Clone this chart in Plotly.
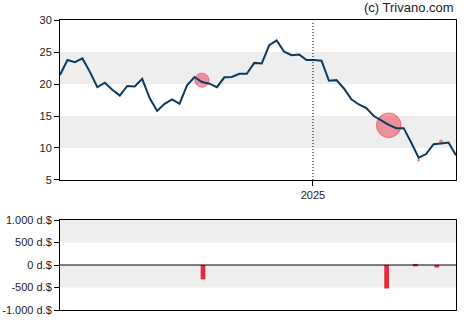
import plotly.graph_objects as go
from plotly.subplots import make_subplots
import pandas as pd

start = "2024-05-09"
prices = [21.4, 23.75, 23.4, 24.0, 21.9, 19.5, 20.2, 19.1, 18.2, 19.7,
          19.6, 20.8, 17.8, 15.8, 16.9, 17.6, 16.9, 19.8, 21.1, 20.3,
          20.05, 19.5, 21.05, 21.1, 21.6, 21.6, 23.3, 23.2, 26.05, 26.8,
          25.05, 24.5, 24.6, 23.75, 23.75, 23.65, 20.5, 20.6, 19.3, 17.6,
          16.8, 16.25, 15.0, 14.3, 13.6, 13.1, 13.1, 10.85, 8.5, 9.05,
          10.6, 10.7, 10.85, 8.85]
dates = pd.date_range(start, periods=len(prices), freq="7D")

trade_dates = ["2024-09-19", "2025-03-13", "2025-04-10", "2025-05-01"]
trade_prices = [20.6, 13.55, 8.1, 11.0]
trade_sizes = [14, 24.6, 2, 3]

bar_dates = ["2024-09-20", "2025-03-11", "2025-04-07", "2025-04-27"]
bar_values = [-320, -522, -30, -55]

ytick_vals = [5, 10, 15, 20, 25, 30]
y2_vals = [1000, 500, 0, -500, -1000]
y2_text = ["1.000 d.$", "500 d.$", "0 d.$", "-500 d.$", "-1.000 d.$"]

fig = make_subplots(rows=2, cols=1, shared_xaxes=False)

fig.add_trace(go.Scatter(x=trade_dates, y=trade_prices, mode="markers",
                         marker=dict(size=trade_sizes, color="rgba(232,40,60,0.66)",
                                     line=dict(color="rgba(232,40,60,0.9)", width=1))),
              row=1, col=1)
fig.add_trace(go.Scatter(x=dates, y=prices, mode="lines",
                         line=dict(color="#0d3a5c", width=2), hoverinfo="skip"),
              row=1, col=1)
fig.add_trace(go.Bar(x=bar_dates, y=bar_values, marker=dict(color="#e8283c", line=dict(width=0)),
                     width=4.4 * 86400000),
              row=2, col=1)

xr = [dates[0], dates[-1]]
band_color = "#eeeeee"
shapes = []
for y0, y1 in [(20, 25), (10, 15)]:
    shapes.append(dict(type="rect", xref="x domain", yref="y", x0=0, x1=1, y0=y0, y1=y1,
                       fillcolor=band_color, line=dict(width=0), layer="below"))
for y0, y1 in [(500, 1000), (-500, 0)]:
    shapes.append(dict(type="rect", xref="x2 domain", yref="y2", x0=0, x1=1, y0=y0, y1=y1,
                       fillcolor=band_color, line=dict(width=0), layer="below"))
shapes.append(dict(type="line", xref="x", yref="y domain", x0="2025-01-01", x1="2025-01-01",
                   y0=0, y1=0.985, line=dict(color="black", width=1, dash="1px,2px")))
shapes.append(dict(type="line", xref="x2 domain", yref="y2", x0=0, x1=1, y0=0, y1=0,
                   line=dict(color="black", width=1)))

font = dict(family="Liberation Sans, Arial", size=11, color="#222")
axis_common = dict(showline=True, linecolor="black", linewidth=1, mirror=True,
                   showgrid=False, zeroline=False, ticklen=5, automargin=False,
                   tickcolor="black", tickfont=font)

fig.update_layout(
    width=470, height=325, margin=dict(l=60, r=14, t=20, b=15),
    plot_bgcolor="white", paper_bgcolor="white", showlegend=False,
    shapes=shapes,
    xaxis=dict(domain=[0, 1], range=xr, tickvals=["2025-01-01"], ticktext=["2025"],
               ticks="outside", **axis_common),
    yaxis=dict(domain=[0.4483, 1], range=[5, 30], tickvals=ytick_vals, ticks="outside", **axis_common),
    xaxis2=dict(domain=[0, 1], range=xr, showticklabels=False, ticks="", **axis_common),
    yaxis2=dict(domain=[0, 0.3103], range=[-1000, 1000], tickvals=y2_vals, ticktext=y2_text,
                ticks="outside", **axis_common),
    annotations=[dict(text="(c) Trivano.com", xref="paper", yref="paper", x=1, y=1,
                      yshift=3, xanchor="right", yanchor="bottom", showarrow=False,
                      font=dict(family="Liberation Sans, Arial", size=13, color="#222"))],
)

fig.write_html("out.html")
